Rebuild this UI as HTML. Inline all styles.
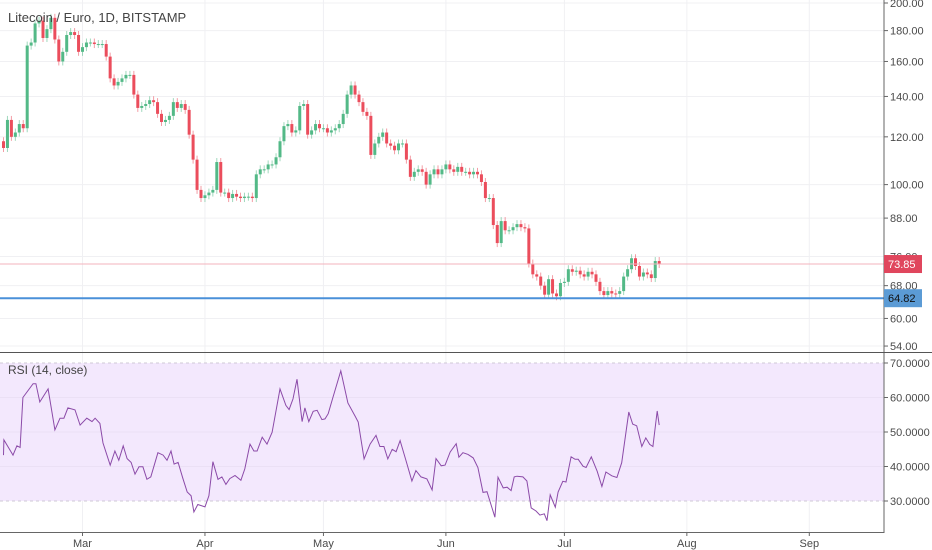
<!DOCTYPE html>
<html><head><meta charset="utf-8"><style>
html,body{margin:0;padding:0;background:#fff;}
svg{display:block;font-family:"Liberation Sans",sans-serif;}
</style></head><body>
<svg id="chart" width="932" height="550" viewBox="0 0 932 550" xmlns="http://www.w3.org/2000/svg">
<rect x="0" y="0" width="932" height="550" fill="#fff"/>
<g id="grid"></g>
<g id="rsiPane"></g>
<g id="candles"></g>
<g id="overlays"></g>
<g id="axes"></g>
<text x="8" y="22" font-size="13" fill="#444">Litecoin / Euro, 1D, BITSTAMP</text>
<text x="8" y="374" font-size="12" fill="#444">RSI (14, close)</text>
</svg>
<script>
const closes=[115,128,120,122,126,124,
170,172,185,187,175,181,189,174,160,166,
177,179,177,166,169,172,172,171,171,171,
163,150,146,148,150,152,152,141,134,135,
136,138,137,131,127,128,130,137,134,136,
133,121,110,98,95,96,97,98,109,97,
97,95,96.5,95.5,95,95.5,95.5,95,104,106,
106,108,108,111,118,125,126,122,123,135,
136,121,123,126,124,124,122,123,124,126,
131,141,146,141,137,132,130,112,117,120,
122,117,116,114,117,117,110,103,105,106,
105,100,104,106,104,106,108,106,105,107,
105,105,104,105,104,101,95,95,85.7,80,
87,84,84,85,86,85,84.6,74,71,70.4,
68,65.7,69.7,66,65.3,68.7,69,72.4,71.7,72,
71,70.4,71.7,71,69,66.6,65.6,66.6,66,65.9,
66.6,70.4,72.4,75.5,73.3,70.4,71.5,71,70,74.7,
73.85];
const firstOpen=118;
const priceTicks=[200,180,160,140,120,100,88,76,68,60,54];
const priceTickLabels=["200.00","180.00","160.00","140.00","120.00","100.00","88.00","76.00","68.00","60.00","54.00"];
const rsiDay=[0,0.1,2.4,3.4,4.2,4.9,7.5,8.2,9.2,11.3,13.0,14.3,15.3,16.3,18.1,19.4,21.1,22.4,23.2,24.4,25.2,27.0,28.2,29.2,30.3,31.3,32.3,33.3,34.3,35.3,36.3,37.3,39.1,40.4,41.4,42.4,43.2,44.2,45.4,46.5,47.5,48.2,49.2,51.0,52.0,53.0,54.3,55.3,56.3,57.3,58.6,60.1,61.1,62.4,63.4,64.2,65.5,66.7,68.0,70.0,71.5,72.3,73.3,74.3,75.6,76.3,77.3,78.4,79.4,80.6,81.4,82.2,83.4,85.4,87.2,89.0,89.8,91.3,92.8,94.3,95.3,96.3,97.3,98.4,99.4,100.4,101.9,103.4,104.4,105.7,107.2,108.5,109.5,110.8,111.8,113.1,114.6,115.3,116.3,117.6,118.9,120.1,121.4,122.4,124.4,125.2,126.5,127.5,128.5,129.3,130.0,131.5,132.5,133.6,134.8,135.8,136.9,137.6,138.4,139.7,140.4,141.6,142.4,143.7,144.7,145.5,146.7,147.5,148.8,150.3,151.5,152.5,154.0,155.3,156.5,158.3,159.3,160.3,161.6,162.6,163.6,164.4,165.5,166];
const rsiVal=[43.3,47.7,43.3,46,45.5,60,64,64,58.7,62.5,50.6,54,54,57,56.4,52,54,53,54,52.5,46.8,40.4,44.5,41.8,46,42.3,41.2,37.8,39.9,39.9,36.3,37,44,43.3,41.8,44.5,40.7,41.2,36.6,32.6,31.5,26.8,29,28.3,31.5,41.4,36.3,37,34.8,36.5,37.4,36,39.3,46.5,44.5,44.5,48.5,46.5,49.9,62.5,57.7,56.5,59.6,65.3,53,57,53,56,56.3,53.6,53.8,55.3,60,67.7,58.4,54.6,52.9,42.2,46.5,49,45.8,45.8,42.2,45,44.3,47.5,41.7,35.8,38.8,37,36.4,33.2,42.3,40.2,40.4,44.2,46.6,42.7,44,43.5,42.5,39.7,32.5,32.7,25.3,36.9,33.8,34,33,37,37.2,37,35.8,28,27.1,25.9,26.3,24.3,31.8,28.2,32.6,35.7,35.5,42.8,42.1,42.1,40.1,39.7,42.8,38.6,34.2,38.4,37.3,36.8,41.1,55.8,52.3,51.8,45.8,48.3,46.4,45.8,56.1,52];
const rsiTicks=[70,60,50,40,30];
const rsiTickLabels=["70.0000","60.0000","50.0000","40.0000","30.0000"];
const monthDays=[20,51,81,112,142,173,204];
const monthLabels=["Mar","Apr","May","Jun","Jul","Aug","Sep"];
const lastPrice=73.85, supportPrice=64.82;

const NS="http://www.w3.org/2000/svg";
const AX=884;
function xS(d){return 3.5+d*3.95;}
function yP(p){return 3+(Math.log(200)-Math.log(p))*262;}
function yR(v){return 363+(70-v)*3.45;}
function mk(parent,tag,attrs,text){const e=document.createElementNS(NS,tag);for(const k in attrs)e.setAttribute(k,attrs[k]);if(text!==undefined)e.textContent=text;document.getElementById(parent).appendChild(e);return e;}

// grid
monthDays.forEach((d,i)=>{
  const l=mk('grid','line',{x1:xS(d),x2:xS(d),y1:0,y2:532,stroke:'#f0f0f3','stroke-width':1});
  
  
});
priceTicks.forEach((p,i)=>{
  const l=mk('grid','line',{x1:0,x2:AX,y1:yP(p),y2:yP(p),stroke:'#f0f0f3','stroke-width':1});
  
  
});
// rsi band
const band=mk('rsiPane','rect',{x:0,y:yR(70),width:AX,height:yR(30)-yR(70),fill:'#f3e8fd'});


rsiTicks.forEach((v,i)=>{
  const dashed=(v===70||v===30);
  const l=mk('rsiPane','line',{x1:0,x2:AX,y1:yR(v),y2:yR(v),stroke:dashed?'#cfc8d6':'#ebe0f5','stroke-width':1,'stroke-dasharray':dashed?'3,3':'none'});
  
  
});
let pts=rsiDay.map((d,i)=>xS(d).toFixed(1)+','+yR(rsiVal[i]).toFixed(1)).join(' ');
const rl=mk('rsiPane','polyline',{points:pts,fill:'none',stroke:'#8b4aa8','stroke-width':1});



// candles
closes.forEach((c,i)=>{
  const o=i===0?firstOpen:closes[i-1];
  const up=c>=o;
  const col=up?'#53b987':'#eb4d5c';
  const x=xS(i);
  const hi=Math.max(o,c), lo=Math.min(o,c);
  const w=mk('candles','line',{x1:x,x2:x,y1:yP(hi)-4,y2:yP(lo)+4,stroke:col,'stroke-width':1,opacity:0.55});
  
  
  const yt=yP(hi), yb=yP(lo);
  const b=mk('candles','rect',{x:x-1.5,y:yt,width:3,height:Math.max(1,yb-yt),fill:col});
  
  
});

// price lines
const lp=mk('overlays','line',{x1:0,x2:AX,y1:yP(lastPrice),y2:yP(lastPrice),stroke:'#f3b3bd','stroke-width':1});


const sp=mk('overlays','line',{x1:0,x2:AX,y1:yP(supportPrice),y2:yP(supportPrice),stroke:'#4a90d9','stroke-width':2});



// axes
const va=mk('axes','line',{x1:AX,x2:AX,y1:0,y2:533,stroke:'#666','stroke-width':1});


const sep=mk('axes','line',{x1:0,x2:932,y1:352.5,y2:352.5,stroke:'#555','stroke-width':1});


const ta=mk('axes','line',{x1:0,x2:AX,y1:532.5,y2:532.5,stroke:'#666','stroke-width':1});


priceTicks.forEach((p,i)=>{
  const y=yP(p);
  const t=mk('axes','line',{x1:AX,x2:AX+4,y1:y,y2:y,stroke:'#666'});
  
  
  const tx=mk('axes','text',{x:AX+6,y:y+4,'font-size':11,fill:'#4a4a4a'},priceTickLabels[i]);
  
  
});
rsiTicks.forEach((v,i)=>{
  const y=yR(v);
  const t=mk('axes','line',{x1:AX,x2:AX+4,y1:y,y2:y,stroke:'#666'});
  
  
  const tx=mk('axes','text',{x:AX+6,y:y+4,'font-size':11,fill:'#4a4a4a'},rsiTickLabels[i]);
  
  
});
monthDays.forEach((d,i)=>{
  const x=xS(d);
  const t=mk('axes','line',{x1:x,x2:x,y1:532,y2:536,stroke:'#666'});
  
  
  const tx=mk('axes','text',{x:x,y:547,'font-size':11,fill:'#4a4a4a','text-anchor':'middle'},monthLabels[i]);
  
  
});
// price labels
function tag(price,bg,fg,name){
  const y=yP(price);
  const r=mk('axes','rect',{x:AX,y:y-9,width:38,height:18,fill:bg});
  
  
  const t=mk('axes','text',{x:AX+4,y:y+4,'font-size':11,fill:fg},price.toFixed(2));
  
  
}
tag(lastPrice,'#e0465d','#fff','last-price-label');
tag(supportPrice,'#5b9bd5','#111','support-price-label');
</script>
</body></html>
